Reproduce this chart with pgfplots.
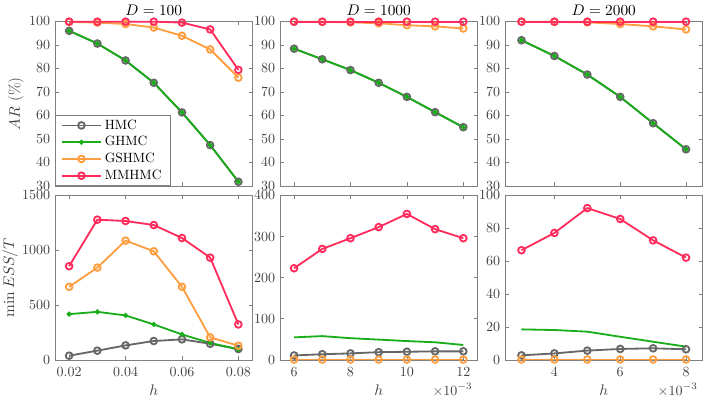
\documentclass[border=0pt]{standalone}
\usepackage{pgfplots}
\pgfplotsset{compat=1.18}
\definecolor{cHMC}{rgb}{0.40,0.40,0.40}
\definecolor{cGHMC}{rgb}{0.10,0.68,0.10}
\definecolor{cGSHMC}{rgb}{1.00,0.62,0.25}
\definecolor{cMMHMC}{rgb}{1.00,0.17,0.36}
\definecolor{tickgray}{rgb}{0.25,0.25,0.25}
\definecolor{framegray}{rgb}{0.50,0.50,0.50}
\pgfplotsset{
  base/.style={
    scale only axis, width=141pt, height=117.5pt, clip=false,
    axis line style={draw=framegray, line width=0.5pt},
    tick style={draw=framegray, line width=0.5pt},
    major tick length=2.6pt, tick align=inside,
    tick label style={font=\fontsize{10}{12}\selectfont, text=tickgray},
    /pgf/number format/set thousands separator={},
    label style={font=\fontsize{11}{13}\selectfont, text=tickgray},
    title style={font=\fontsize{11}{13}\selectfont, text=black, yshift=-5.3pt},
    scaled x ticks=false, scaled y ticks=false,
    xticklabel style={yshift=-2pt},
    xlabel style={at={(axis description cs:0.5,0)}, anchor=center, yshift=-21.4pt},
    legend cell align=left,
  },
  hmc/.style={color=cHMC, line width=1.3pt, mark=o, mark size=2.4pt, mark options={line width=1.3pt}},
  ghmc/.style={color=cGHMC, line width=1.3pt, mark=*, mark size=1.1pt},
  gshmc/.style={color=cGSHMC, line width=1.3pt, mark=o, mark size=2.4pt, mark options={line width=1.3pt}},
  mmhmc/.style={color=cMMHMC, line width=1.3pt, mark=o, mark size=2.4pt, mark options={line width=1.3pt}},
  top/.style={base, ymin=30, ymax=100, ytick={30,40,...,100}, xticklabels={}},
  sc/.style={after end axis/.code={\node[anchor=east, font=\fontsize{10}{12}\selectfont, text=tickgray] at (rel axis cs:1,0) [yshift=-21.4pt] {$\times 10^{-3}$};}},
}
\begin{document}
\begin{tikzpicture}
\path[use as bounding box] (0,0) rectangle (504.1pt,285.6pt);
% ---------- top left: D=100
\begin{axis}[top, at={(39.3pt,152.8pt)}, anchor=south west,
  xmin=0.015, xmax=0.085, xtick={0.02,0.04,0.06,0.08},
  title={$D = 100$}, ylabel={$AR$ (\%)},
  ylabel style={at={(axis description cs:-0.197,0.5)}, anchor=center},
  legend style={at={(0,0)}, anchor=south west, draw=framegray,
    font=\fontsize{9.6}{10.5}\selectfont, inner xsep=4pt, inner ysep=1pt, row sep=-0.3pt},
  legend image code/.code={\draw[mark repeat=2, mark phase=2, #1] plot coordinates {(0pt,0pt) (14pt,0pt) (28pt,0pt)};}]
\addplot[hmc] coordinates {(0.02,96) (0.03,90.6) (0.04,83.4) (0.05,73.9) (0.06,61.3) (0.07,47.4) (0.08,31.8)};
\addplot[ghmc] coordinates {(0.02,96) (0.03,90.6) (0.04,83.4) (0.05,73.9) (0.06,61.3) (0.07,47.4) (0.08,31.8)};
\addplot[gshmc] coordinates {(0.02,99.8) (0.03,99.5) (0.04,98.9) (0.05,97.4) (0.06,93.9) (0.07,88.1) (0.08,76.1)};
\addplot[mmhmc] coordinates {(0.02,99.9) (0.03,99.9) (0.04,99.9) (0.05,99.9) (0.06,99.5) (0.07,96.6) (0.08,79.4)};
\legend{HMC,GHMC,GSHMC,MMHMC}
\end{axis}
% ---------- top middle: D=1000
\begin{axis}[top, at={(199.9pt,152.8pt)}, anchor=south west,
  xmin=5.5, xmax=12.5, xtick={6,8,10,12}, title={$D = 1000$}]
\addplot[hmc] coordinates {(6,88.4) (7,83.9) (8,79.3) (9,73.9) (10,67.9) (11,61.4) (12,55)};
\addplot[ghmc] coordinates {(6,88.4) (7,83.9) (8,79.3) (9,73.9) (10,67.9) (11,61.4) (12,55)};
\addplot[gshmc] coordinates {(6,99.9) (7,99.8) (8,99.6) (9,99.2) (10,98.4) (11,97.9) (12,97.0)};
\addplot[mmhmc] coordinates {(6,99.9) (7,99.9) (8,99.9) (9,99.9) (10,99.9) (11,99.9) (12,99.9)};
\end{axis}
% ---------- top right: D=2000
\begin{axis}[top, at={(360.6pt,152.8pt)}, anchor=south west,
  xmin=2.5, xmax=8.5, xtick={4,6,8}, title={$D = 2000$}]
\addplot[hmc] coordinates {(3,92) (4,85.3) (5,77.4) (6,67.9) (7,56.7) (8,45.6)};
\addplot[ghmc] coordinates {(3,92) (4,85.3) (5,77.4) (6,67.9) (7,56.7) (8,45.6)};
\addplot[gshmc] coordinates {(3,99.9) (4,99.8) (5,99.6) (6,98.9) (7,97.9) (8,96.6)};
\addplot[mmhmc] coordinates {(3,99.9) (4,99.9) (5,99.9) (6,99.9) (7,99.9) (8,99.9)};
\end{axis}
% ---------- bottom left
\begin{axis}[base, at={(39.3pt,28.56pt)}, anchor=south west,
  xmin=0.015, xmax=0.085, xtick={0.02,0.04,0.06,0.08},
  xticklabel style={/pgf/number format/fixed, /pgf/number format/precision=2, /pgf/number format/fixed zerofill},
  ymin=0, ymax=1500, ytick={0,500,1000,1500},
  xlabel={$h$}, ylabel={$\min ESS/T$},
  ylabel style={at={(axis description cs:-0.227,0.5)}, anchor=center}]
\addplot[hmc] coordinates {(0.02,39) (0.03,85) (0.04,133) (0.05,173) (0.06,188) (0.07,148) (0.08,100)};
\addplot[ghmc] coordinates {(0.02,418) (0.03,439) (0.04,406) (0.05,324) (0.06,233) (0.07,155) (0.08,97)};
\addplot[gshmc] coordinates {(0.02,667) (0.03,842) (0.04,1088) (0.05,991) (0.06,667) (0.07,206) (0.08,130)};
\addplot[mmhmc] coordinates {(0.02,855) (0.03,1279) (0.04,1267) (0.05,1230) (0.06,1112) (0.07,933) (0.08,324)};
\end{axis}
% ---------- bottom middle
\begin{axis}[base, sc, at={(199.9pt,28.56pt)}, anchor=south west,
  xmin=5.5, xmax=12.5, xtick={6,8,10,12},
  ymin=0, ymax=400, ytick={0,100,...,400}, xlabel={$h$}]
\addplot[hmc] coordinates {(6,11) (7,14) (8,16) (9,19) (10,20) (11,21) (12,21)};
\addplot[ghmc, mark=none] coordinates {(6,55) (7,58) (8,53) (9,49.5) (10,46) (11,43) (12,36.5)};
\addplot[gshmc] coordinates {(6,1) (7,1) (8,1) (9,1) (10,1) (11,1) (12,1)};
\addplot[mmhmc] coordinates {(6,223) (7,270) (8,296) (9,323) (10,355) (11,318) (12,296)};
\end{axis}
% ---------- bottom right
\begin{axis}[base, sc, at={(360.6pt,28.56pt)}, anchor=south west,
  xmin=2.5, xmax=8.5, xtick={4,6,8},
  ymin=0, ymax=100, ytick={0,20,...,100}, xlabel={$h$}]
\addplot[hmc] coordinates {(3,2.8) (4,4) (5,5.7) (6,6.7) (7,7.1) (8,6.5)};
\addplot[ghmc, mark=none] coordinates {(3,18.6) (4,18.2) (5,17.2) (6,14.1) (7,11.1) (8,8.1)};
\addplot[gshmc] coordinates {(3,0.3) (4,0.3) (5,0.3) (6,0.3) (7,0.3) (8,0.3)};
\addplot[mmhmc] coordinates {(3,66.7) (4,77.2) (5,92.3) (6,85.7) (7,72.7) (8,62.2)};
\end{axis}
\end{tikzpicture}
\end{document}
